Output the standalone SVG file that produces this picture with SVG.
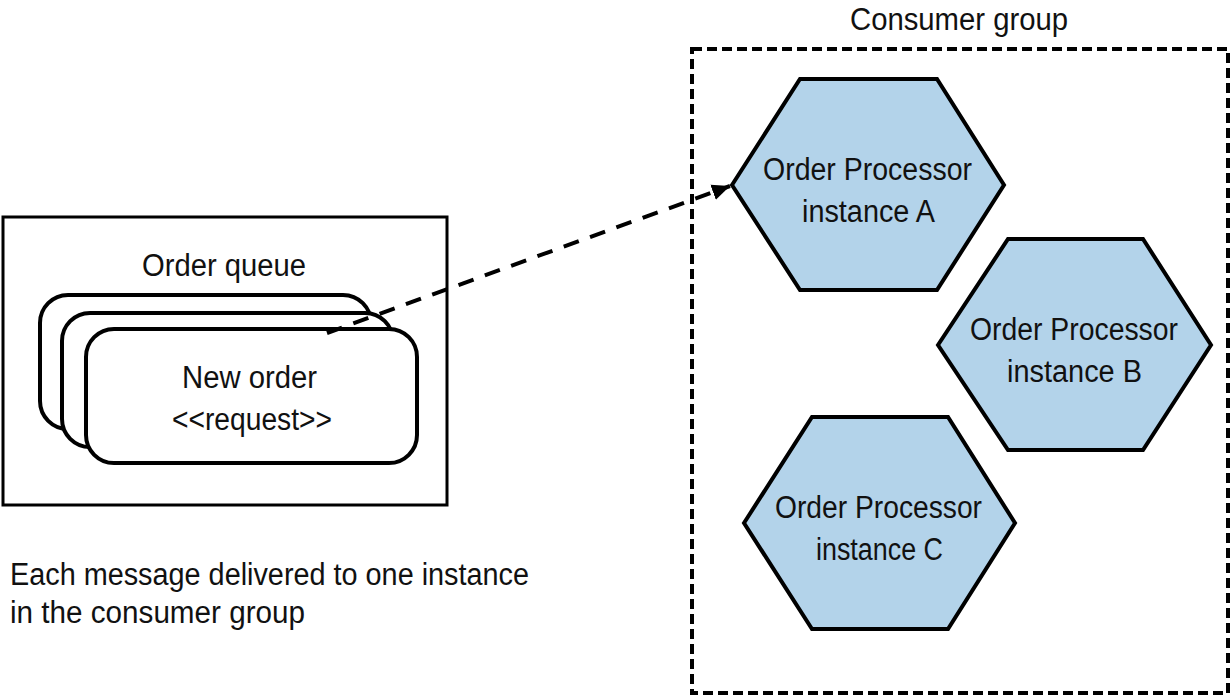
<svg xmlns="http://www.w3.org/2000/svg" width="1232" height="697" viewBox="0 0 1232 697">
<style>
text{font-family:"Liberation Sans",Arial,sans-serif;font-size:31px;fill:#111;}
.hex{fill:#b3d3ea;stroke:#000;stroke-width:4;stroke-linejoin:miter;}
.msg{fill:#fff;stroke:#000;stroke-width:4;}
.box{fill:none;stroke:#000;stroke-width:3;}
.group{fill:none;stroke:#000;stroke-width:4;stroke-dasharray:10 5;}
.conn{fill:none;stroke:#000;stroke-width:4;stroke-dasharray:16 12;}
</style>
<defs>
<marker id="arrow" markerUnits="userSpaceOnUse" markerWidth="20" markerHeight="20" viewBox="0 0 20 20" refX="18" refY="10" orient="auto">
<path d="M0,2 L18,10 L0,18 Z" fill="#000"/>
</marker>
</defs>
<rect width="1232" height="697" fill="#fff"/>

<g id="consumer-group">
<rect class="group" x="692" y="49" width="536" height="644"/>
<text x="850" y="30" textLength="218" lengthAdjust="spacingAndGlyphs">Consumer group</text>
</g>

<g id="order-queue">
<rect class="box" x="3" y="217" width="444" height="288"/>
<text x="142" y="276" textLength="164" lengthAdjust="spacingAndGlyphs">Order queue</text>
</g>

<g id="message-stack">
<rect class="msg" x="40" y="295" width="331" height="134" rx="28"/>
<rect class="msg" x="62" y="313" width="331" height="134" rx="28"/>
<rect class="msg" x="86" y="329" width="331" height="134" rx="28"/>
<text x="182" y="388" textLength="135" lengthAdjust="spacingAndGlyphs">New order</text>
<text x="172" y="430" textLength="160" lengthAdjust="spacingAndGlyphs">&lt;&lt;request&gt;&gt;</text>
</g>

<g id="instance-a">
<polygon class="hex" points="732,185 800,79 937,79 1004,185 937,290 800,290"/>
<text x="763" y="180" textLength="209" lengthAdjust="spacingAndGlyphs">Order Processor</text>
<text x="802" y="222" textLength="133" lengthAdjust="spacingAndGlyphs">instance A</text>
</g>

<g id="instance-b">
<polygon class="hex" points="938,345 1008,239 1143,239 1211,345 1143,450 1008,450"/>
<text x="970" y="340" textLength="208" lengthAdjust="spacingAndGlyphs">Order Processor</text>
<text x="1007" y="382" textLength="135" lengthAdjust="spacingAndGlyphs">instance B</text>
</g>

<g id="instance-c">
<polygon class="hex" points="744,523 812,417 948,417 1015,523 948,629 812,629"/>
<text x="775" y="518" textLength="207" lengthAdjust="spacingAndGlyphs">Order Processor</text>
<text x="816" y="560" textLength="127" lengthAdjust="spacingAndGlyphs">instance C</text>
</g>

<g id="caption">
<text x="10" y="585" textLength="519" lengthAdjust="spacingAndGlyphs">Each message delivered to one instance</text>
<text x="10" y="623" textLength="295" lengthAdjust="spacingAndGlyphs">in the consumer group</text>
</g>

<g id="connectors">
<path class="conn" d="M327,333 L730,186" marker-end="url(#arrow)"/>
</g>
</svg>
